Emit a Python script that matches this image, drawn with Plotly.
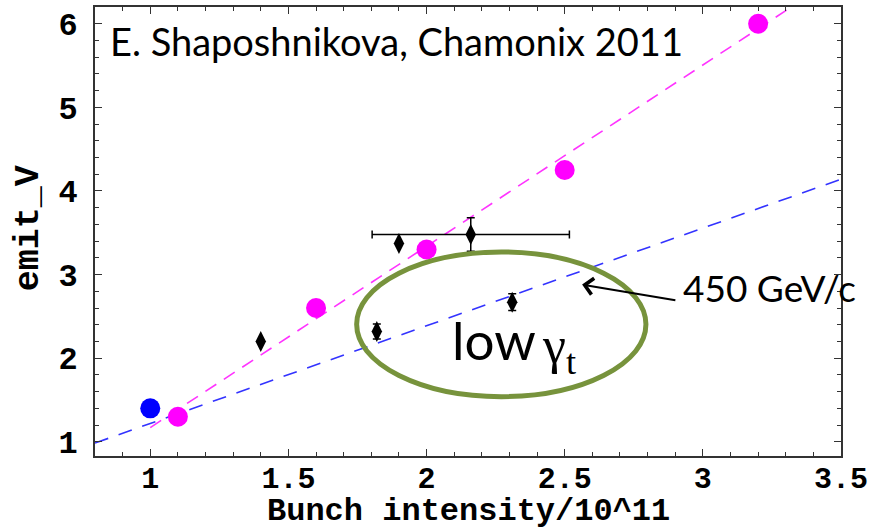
import plotly.graph_objects as go

# Measured emittance vs bunch intensity
nominal_x = [1.1, 1.6, 2.0, 2.5, 3.2]
nominal_y = [1.3, 2.6, 3.3, 4.25, 6.0]

ref_x = [1.0]
ref_y = [1.4]

meas_x = [1.4, 1.9]
meas_y = [2.2, 3.37]

wide_x = [2.16]
wide_y = [3.48]
wide_xerr = [0.357]
wide_yerr = [0.2]

lowgt_x = [1.82, 2.31]
lowgt_y = [2.32, 2.67]
lowgt_yerr = [0.09, 0.1]

# Fitted trend lines (end points)
fit_nominal_x = [1.0, 3.5]
fit_nominal_y = [1.17, 6.59]
fit_450_x = [0.8, 3.5]
fit_450_y = [0.985, 4.14]

x_ticks = [1, 1.5, 2, 2.5, 3, 3.5]
x_ticklabels = ["1", "1.5", "2", "2.5", "3", "3.5"]
y_ticks = [1, 2, 3, 4, 5, 6]

mono = "Liberation Mono"
sans = "Lato"
serif = "Liberation Serif"

fig = go.Figure()

fig.add_trace(go.Scatter(x=fit_nominal_x, y=fit_nominal_y, mode="lines",
                         line=dict(color="#FF33FF", width=1.6, dash="13px,9px"),
                         showlegend=False, hoverinfo="skip"))
fig.add_trace(go.Scatter(x=fit_450_x, y=fit_450_y, mode="lines",
                         line=dict(color="#3333FF", width=1.6, dash="14px,11px"),
                         showlegend=False, hoverinfo="skip"))

fig.add_trace(go.Scatter(x=nominal_x, y=nominal_y, mode="markers",
                         marker=dict(color="#FF00FF", size=20, symbol="circle"),
                         showlegend=False))
fig.add_trace(go.Scatter(x=ref_x, y=ref_y, mode="markers",
                         marker=dict(color="#0000FF", size=20, symbol="circle"),
                         showlegend=False))

diamond = dict(color="black", size=15, symbol="diamond-tall")
fig.add_trace(go.Scatter(x=meas_x, y=meas_y, mode="markers", marker=diamond,
                         showlegend=False))
fig.add_trace(go.Scatter(x=wide_x, y=wide_y, mode="markers", marker=diamond,
                         error_x=dict(type="data", array=wide_xerr, color="black",
                                      thickness=1.5, width=4),
                         error_y=dict(type="data", array=wide_yerr, color="black",
                                      thickness=1.5, width=4),
                         showlegend=False))
fig.add_trace(go.Scatter(x=lowgt_x, y=lowgt_y, mode="markers", marker=diamond,
                         error_y=dict(type="data", array=lowgt_yerr, color="black",
                                      thickness=1.5, width=4),
                         showlegend=False))

# Ellipse marking the low gamma_t points
fig.add_shape(type="circle", xref="x", yref="y",
              x0=1.747, x1=2.794, y0=1.54, y1=3.27,
              line=dict(color="#77933C", width=5))

fig.add_annotation(x=0.848, y=5.79, xref="x", yref="y", xanchor="left",
                   yanchor="middle", showarrow=False,
                   text="E. Shaposhnikova, Chamonix 2011",
                   font=dict(family=sans, size=38, color="black"))

# "low γt" label inside the ellipse
fig.add_annotation(x=2.405, y=2.22, xref="x", yref="y", xanchor="right",
                   yanchor="middle", showarrow=False, text="low",
                   font=dict(family=sans, size=53, color="black"))
fig.add_annotation(x=2.41, y=2.1, xref="x", yref="y", xanchor="left",
                   yanchor="middle", showarrow=False, text="γ<sub>t</sub>",
                   font=dict(family=serif, size=52, color="black"))

fig.add_annotation(x=2.563, y=2.88, ax=2.906, ay=2.69, xref="x", yref="y",
                   axref="x", ayref="y", showarrow=True, arrowhead=4,
                   arrowsize=1.6, arrowwidth=2, arrowcolor="black", text="")
fig.add_annotation(x=2.92, y=2.85, xref="x", yref="y", xanchor="left",
                   yanchor="middle", showarrow=False, text="450 GeV/c",
                   font=dict(family=sans, size=37, color="black"))

# Axis titles
fig.add_annotation(x=0.5, y=-0.124, xref="paper", yref="paper",
                   xanchor="center", yanchor="middle", showarrow=False,
                   text="Bunch intensity/10^11", borderpad=0,
                   font=dict(family=mono, size=32, color="black", weight="bold"))
fig.add_annotation(x=-0.088, y=0.508, xref="paper", yref="paper",
                   xanchor="center", yanchor="middle", showarrow=False,
                   textangle=-90, text="emit_V",
                   font=dict(family=mono, size=35, color="black", weight="bold"))

axis_common = dict(showline=True, linecolor="#333333", linewidth=2,
                   mirror="allticks", ticks="inside", ticklen=7, tickwidth=1.2,
                   tickcolor="#333333", showgrid=False, zeroline=False,
                   automargin=False)

fig.update_xaxes(range=[0.8, 3.5], tickvals=x_ticks, ticktext=x_ticklabels,
                 ticklabelstandoff=-6,
                 tickfont=dict(family=mono, size=30, color="black", weight="bold"),
                 minor=dict(dtick=0.1, tick0=0, ticks="inside", ticklen=4,
                            tickcolor="#333333"),
                 **axis_common)
fig.update_yaxes(range=[0.83, 6.2], tickvals=y_ticks, ticklabelstandoff=9,
                 tickfont=dict(family=mono, size=32, color="black", weight="bold"),
                 minor=dict(dtick=0.2, tick0=0, ticks="inside", ticklen=4,
                            tickcolor="#333333"),
                 **axis_common)

fig.update_layout(width=871, height=530, margin=dict(l=95, r=30, t=7, b=74),
                  plot_bgcolor="white", paper_bgcolor="white")

fig.write_html("out.html")
